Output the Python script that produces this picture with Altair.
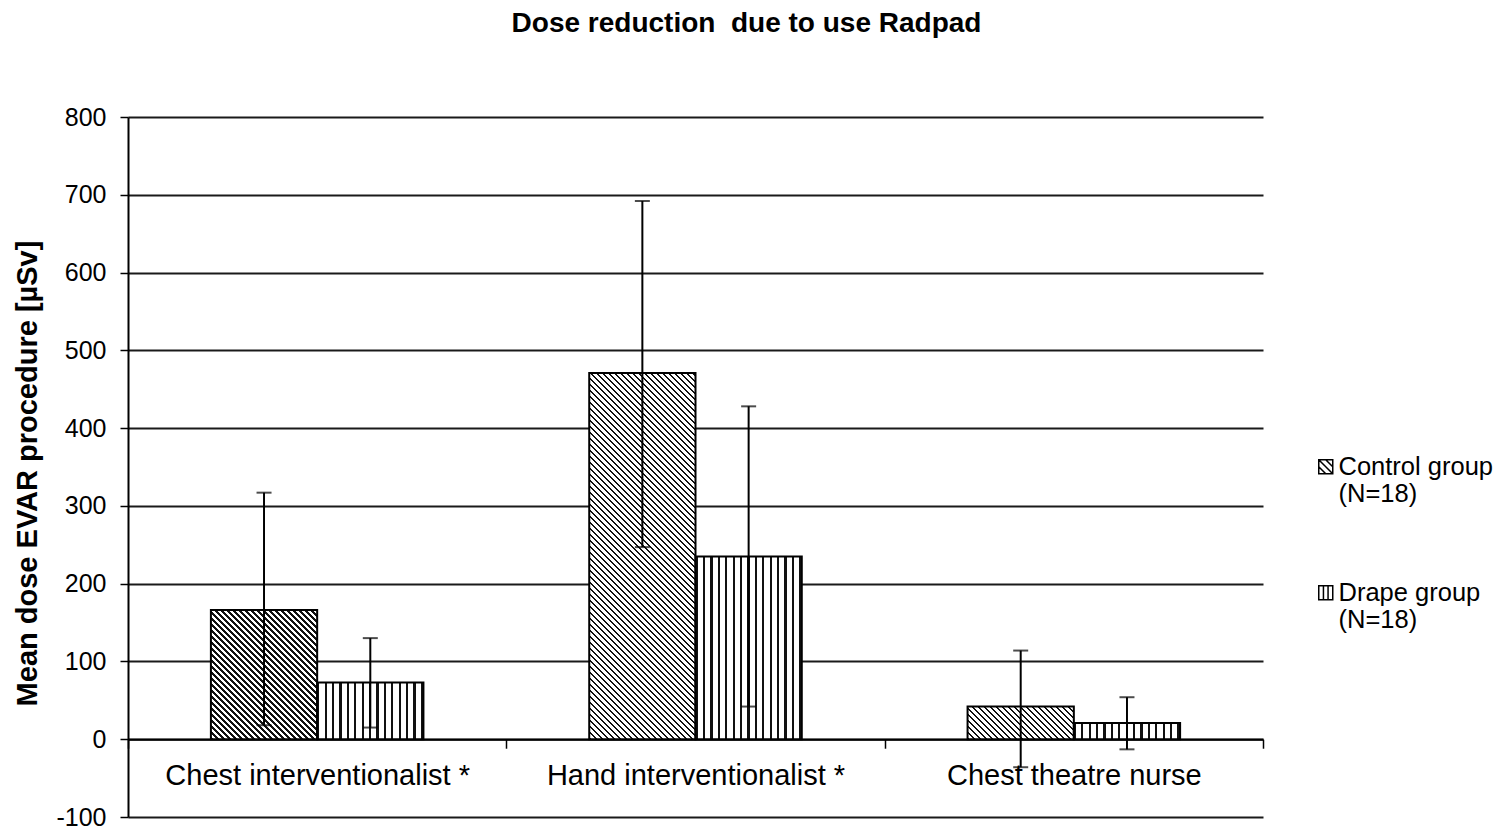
import altair as alt
import pandas as pd

# ---------------- data ----------------
categories = ["Chest interventionalist *", "Hand interventionalist *", "Chest theatre nurse"]
groups = ["Control group", "Drape group"]
group_n = [18, 18]
control_mean = [166, 471, 42]
control_low = [18, 247, -36]
control_high = [317, 692, 114]
drape_mean = [73, 235, 21]
drape_low = [15, 42, -13]
drape_high = [130, 428, 54]
y_ticks = [-100, 0, 100, 200, 300, 400, 500, 600, 700, 800]
title_text = "Dose reduction\u00a0 due to use Radpad"
y_title = "Mean dose EVAR procedure [\u00b5Sv]"

rows = []
for i, c in enumerate(categories):
    rows.append(dict(category=c, group=groups[0], mean=control_mean[i],
                     low=control_low[i], high=control_high[i]))
    rows.append(dict(category=c, group=groups[1], mean=drape_mean[i],
                     low=drape_low[i], high=drape_high[i]))
df = pd.DataFrame(rows)

# ---------------- layout / style ----------------
W, H = 1135, 700
Y_MIN, Y_MAX = -100, 800
PX = H / (Y_MAX - Y_MIN)
X_PAD_OUTER = 0.78
BAR_W = (W / len(categories)) / (len(groups) + 2 * X_PAD_OUTER)
FONT = "Liberation Sans, Arial, sans-serif"
INK = "#111111"


def stripes(count, frac):
    stops = []
    j = 0
    while j < count:
        a = j / count
        b = min((j + frac) / count, 1.0)
        c = min((j + 1) / count, 1.0)
        stops += [{"offset": a, "color": INK}, {"offset": b, "color": INK},
                  {"offset": b, "color": "white"}, {"offset": c, "color": "white"}]
        j += 1
    return stops


def diag_fill(w, h, period=6.0, frac=0.42):
    span = w + h
    k = span / (w * w + h * h)
    return {"gradient": "linear", "x1": 0, "y1": 1, "x2": k * w, "y2": 1 - k * h,
            "stops": stripes(span / period, frac)}


def vert_fill(w, period=7.4, frac=0.3):
    return {"gradient": "linear", "x1": 0, "y1": 0, "x2": 1, "y2": 0,
            "stops": stripes(w / period, frac)}


sym_control = "M-1,-1H1V1H-1Z M-1,-1L1,1 M-1,0L0,1 M0,-1L1,0"
sym_drape = "M-1,-1H1V1H-1Z M-0.33,-1V1 M0.33,-1V1"

x_enc = alt.X("category:N", sort=categories,
              scale=alt.Scale(paddingInner=0, paddingOuter=0),
              axis=alt.Axis(orient="bottom", offset=-(0 - Y_MIN) * PX, title=None,
                            domainColor="black", domainWidth=2, tickBand="extent",
                            tickSize=9, tickColor="black", tickWidth=1.5,
                            labelFont=FONT, labelFontSize=29, labelColor="black",
                            labelPadding=13, labelAngle=0, labelLimit=0, grid=False))
xo_enc = alt.XOffset("group:N", sort=groups,
                     scale=alt.Scale(paddingInner=0, paddingOuter=X_PAD_OUTER))
y_enc = alt.Y("mean:Q",
              scale=alt.Scale(domain=[Y_MIN, Y_MAX], nice=False, zero=False),
              axis=alt.Axis(values=y_ticks, grid=True, gridColor="#1a1a1a", gridWidth=2,
                            domainColor="black", domainWidth=2, tickColor="black",
                            tickWidth=1.5, tickSize=8, labelFont=FONT, labelFontSize=25,
                            labelExpr="'' + datum.value",
                            labelColor="black", labelPadding=14, title=y_title,
                            titleFont=FONT, titleFontWeight="bold",
                            titleFontSize=29, titleColor="black", titleX=-101,
                            titleY=356, titleBaseline="middle", titleAlign="center"))

base = alt.Chart(df)
layers = []
for i, c in enumerate(categories):
    h = control_mean[i] * PX
    layers.append(
        base.transform_filter(alt.FieldEqualPredicate(field="category", equal=c))
        .transform_filter(alt.FieldEqualPredicate(field="group", equal=groups[0]))
        .mark_bar(fill=diag_fill(BAR_W, h), stroke="black", strokeWidth=2)
        .encode(x=x_enc, xOffset=xo_enc, y=y_enc)
    )

layers.append(
    base.transform_filter(alt.FieldEqualPredicate(field="group", equal=groups[1]))
    .mark_bar(fill=vert_fill(BAR_W), stroke="black", strokeWidth=2)
    .encode(x=x_enc, xOffset=xo_enc, y=y_enc)
)

layers.append(
    base.mark_rule(color="black", strokeWidth=2)
    .encode(x=x_enc, xOffset=xo_enc, y=alt.Y("low:Q"), y2="high:Q")
)
layers.append(
    base.transform_fold(["low", "high"], as_=["end", "val"])
    .mark_tick(color="black", thickness=2, size=15)
    .encode(x=x_enc, xOffset=xo_enc, y=alt.Y("val:Q"))
)

legend_labels = [f"{g}|(N={n})" for g, n in zip(groups, group_n)]
layers.append(
    base.transform_calculate(lab="datum.group == '%s' ? '%s' : '%s'" % (
        groups[0], legend_labels[0], legend_labels[1]))
    .mark_point(opacity=0, filled=False)
    .encode(x=x_enc, xOffset=xo_enc, y=y_enc,
            shape=alt.Shape("lab:N",
                            scale=alt.Scale(domain=legend_labels,
                                            range=[sym_control, sym_drape]),
                            legend=alt.Legend(orient="none", legendX=1185, legendY=337,
                                              title=None,
                                              labelExpr="split(datum.label, '|')",
                                              labelFont=FONT, labelFontSize=25.5,
                                              labelColor="black", labelLimit=0,
                                              labelOffset=0, symbolSize=196,
                                              symbolStrokeColor="black",
                                              symbolFillColor="white",
                                              symbolStrokeWidth=1.5, symbolOpacity=1,
                                              rowPadding=72, padding=0)))
)

chart = alt.layer(*layers).properties(
    width=W, height=H,
    title=alt.TitleParams(text=title_text, font=FONT, fontSize=28, fontWeight="bold",
                          color="black", anchor="middle", frame="group", dx=51,
                          offset=67),
    autosize=alt.AutoSizeParams(type="none"),
    padding={"left": 120, "top": 109, "right": 232, "bottom": 10},
    background="white",
).configure_view(stroke=None)

chart.save("out.html", embed_options={"renderer": "svg", "actions": False})
